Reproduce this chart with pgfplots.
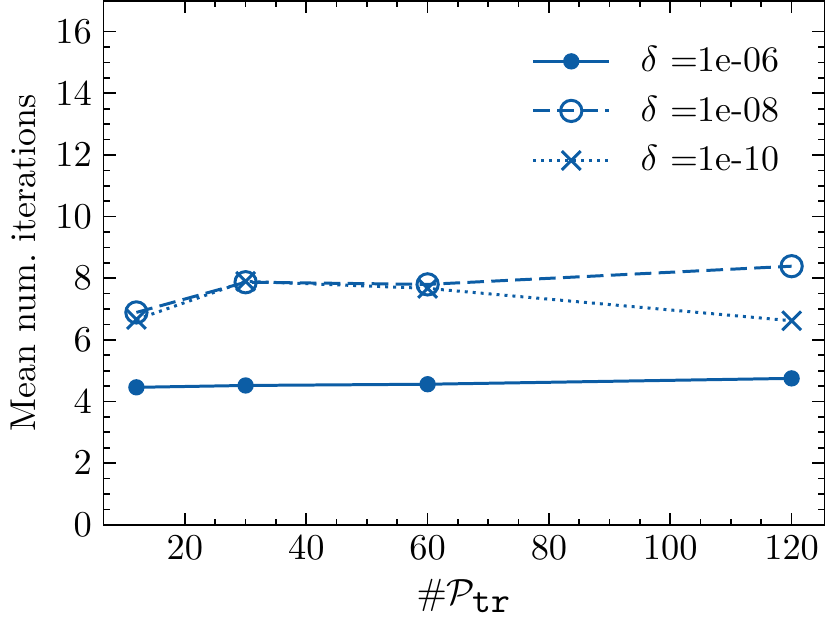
\documentclass[border=0pt]{standalone}
\usepackage{pgfplots}
\pgfplotsset{compat=1.18}
\definecolor{sciblue}{HTML}{0C5DA5}
\begin{document}
\begin{tikzpicture}
\begin{axis}[
  scale only axis,
  width=216.8pt, height=157.6pt,
  xmin=6.6, xmax=125.4, ymin=0, ymax=17,
  xtick={20,40,60,80,100,120},
  ytick={0,2,4,6,8,10,12,14,16},
  minor x tick num=3,
  minor y tick num=3,
  tick align=inside,
  tick pos=both,
  major tick length=3.6pt,
  minor tick length=1.8pt,
  every tick/.style={black, line width=0.5pt},
  axis line style={line width=0.5pt},
  tick label style={font=\fontsize{10.8}{13}\selectfont},
  label style={font=\fontsize{10.8}{13}\selectfont},
  xlabel={$\#\mathcal{P}_{\texttt{tr}}$},
  ylabel={Mean num.\ iterations},
  xlabel style={yshift=1pt},
  ylabel style={yshift=-1pt},
  legend style={draw=none, fill=none, at={(0.962,0.94)}, anchor=north east, row sep=1.8pt, column sep=7pt, font=\fontsize{10.8}{13}\selectfont},
  legend cell align=left,
  legend image code/.code={
    \draw[mark repeat=2,mark phase=2] plot coordinates {(0cm,0cm) (0.4cm,0cm) (0.8cm,0cm)};
  },
]
\addplot[sciblue, line width=0.9pt, mark=*, mark size=2pt, mark options={solid}] coordinates {
(12,4.46) (30,4.52) (60,4.56) (120,4.75)};
\addlegendentry{$\delta$ =1e-06}
\addplot[sciblue, line width=0.9pt, dash pattern=on 5pt off 2.2pt, mark=o, mark size=3.2pt, mark options={solid, line width=0.9pt}] coordinates {
(12,6.89) (30,7.87) (60,7.80) (120,8.39)};
\addlegendentry{$\delta$ =1e-08}
\addplot[sciblue, line width=0.9pt, dash pattern=on 0.9pt off 1.5pt, mark=x, mark size=4pt, mark options={solid, line width=0.9pt}] coordinates {
(12,6.66) (30,7.90) (60,7.67) (120,6.62)};
\addlegendentry{$\delta$ =1e-10}
\end{axis}
\end{tikzpicture}
\end{document}
